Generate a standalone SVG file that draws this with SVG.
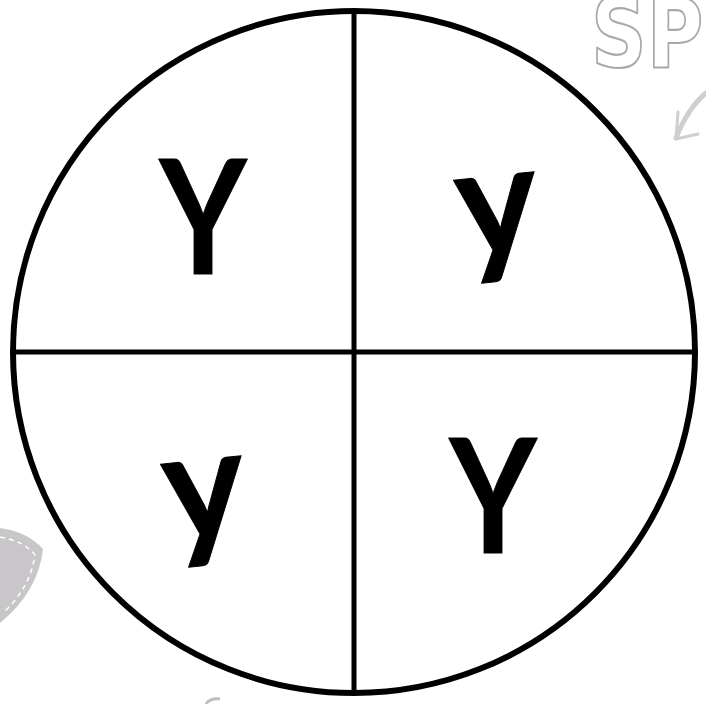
<svg xmlns="http://www.w3.org/2000/svg" width="706" height="704" viewBox="0 0 706 704">
<style>
.ln{stroke:#000;fill:none}
.let{font-family:Lato,"Liberation Sans",sans-serif;font-weight:700;fill:#000;text-anchor:middle;stroke:#000;stroke-width:1;stroke-linejoin:round}
.deco{font-family:"DejaVu Sans",sans-serif;font-weight:700;fill:#fff;stroke:#a9a9a9;stroke-width:2;stroke-linejoin:round}
</style>
<rect width="706" height="704" fill="#fff"/>
<g id="decor">
<text class="deco" x="0" y="0" font-size="92" transform="translate(591 67) scale(0.84 1.05)">SP</text>
<path d="M706 93 Q688 108 676 138" stroke="#cfcfcf" stroke-width="5" fill="none" stroke-linecap="round"/>
<path d="M678 112 L676 139 L698 134" stroke="#cfcfcf" stroke-width="3" fill="none" stroke-linecap="round" stroke-linejoin="round"/>
<path d="M0 528 Q28 532 43 549 Q38 592 0 623 Z" fill="#c9c6c9"/>
<path d="M0 537 Q24 541 35 555 Q30 588 4 612" stroke="#fff" stroke-width="1.5" fill="none" stroke-dasharray="5 4"/>
<path d="M206 704 Q210 698 220 699" stroke="#bdbdbd" stroke-width="3" fill="none"/>
</g>
<g id="circle">
<circle class="ln" cx="354" cy="352" r="341" stroke-width="6"/>
<line class="ln" x1="354" y1="10" x2="354" y2="695" stroke-width="5"/>
<line class="ln" x1="12" y1="352" x2="696" y2="352" stroke-width="5"/>
</g>
<g id="cell-top-left"><text class="let" x="0" y="0" font-size="160" transform="translate(203 274) scale(0.84 1)">Y</text></g>
<g id="cell-top-right"><text class="let" x="0" y="0" font-size="155" transform="translate(502 255) rotate(-6)">y</text></g>
<g id="cell-bottom-left"><text class="let" x="0" y="0" font-size="155" transform="translate(209 539) rotate(-6)">y</text></g>
<g id="cell-bottom-right"><text class="let" x="0" y="0" font-size="160" transform="translate(493 553) scale(0.84 1)">Y</text></g>
</svg>
